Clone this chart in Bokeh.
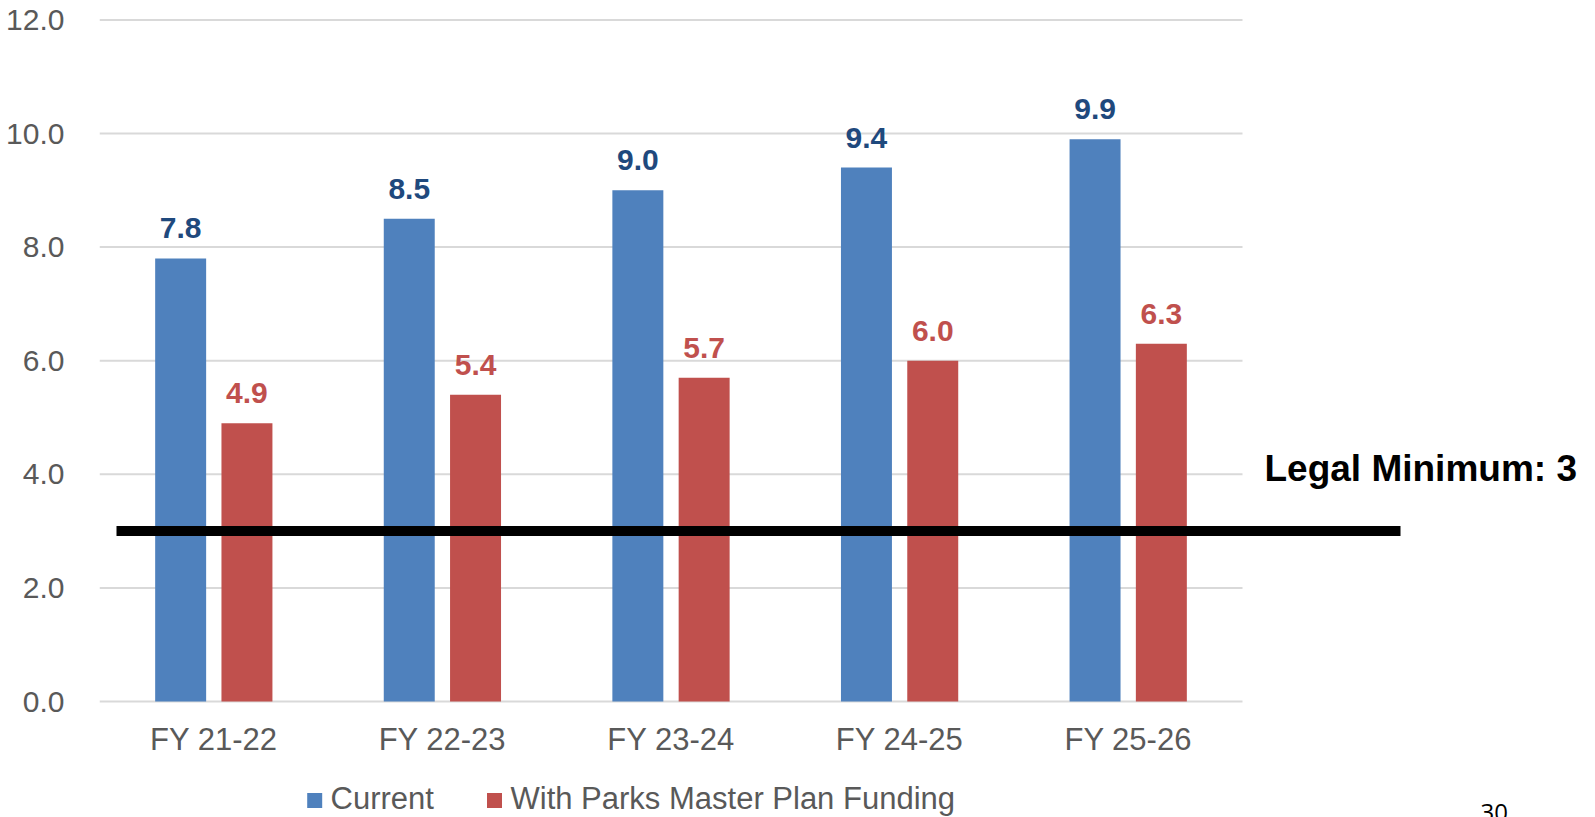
from bokeh.plotting import figure
from bokeh.models import Range1d, FixedTicker, NumeralTickFormatter, ColumnDataSource
from bokeh.core.properties import value
from bokeh.embed import file_html
from bokeh.resources import INLINE

# ---- data ----
categories = ["FY 21-22", "FY 22-23", "FY 23-24", "FY 24-25", "FY 25-26"]
current = [7.8, 8.5, 9.0, 9.4, 9.9]
with_parks = [4.9, 5.4, 5.7, 6.0, 6.3]
series_names = ["Current", "With Parks Master Plan Funding"]
y_ticks = [0, 2, 4, 6, 8, 10, 12]
legal_minimum = 3
page_number = "30"

# ---- style ----
BLUE = "#4F81BD"
RED = "#C0504D"
BLUE_LABEL = "#1F497D"
GRAY_TEXT = "#595959"
GRID = "#D9D9D9"
FONT = "Liberation Sans"

W, H = 1595, 817
LEFT = 99
PX_PER_X = 228.6
PX_PER_Y = 56.8
ZERO_PX = 701.0


def xd(px):
    return (px - LEFT) / PX_PER_X


def yd(py):
    return (ZERO_PX - py) / PX_PER_Y


p = figure(width=W, height=H, output_backend="svg", toolbar_location=None,
           x_axis_type=None, x_range=Range1d(0, xd(W)), y_range=Range1d(yd(H), yd(0)),
           min_border_left=LEFT, min_border_right=0, min_border_top=0, min_border_bottom=0)
p.outline_line_color = None
p.xgrid.visible = False
p.ygrid.visible = False
p.background_fill_color = "white"
p.border_fill_color = "white"

ya = p.yaxis[0]
ya.ticker = FixedTicker(ticks=y_ticks)
ya.formatter = NumeralTickFormatter(format="0.0")
ya.axis_line_color = None
ya.major_tick_line_color = None
ya.minor_tick_line_color = None
ya.major_label_standoff = 29
ya.major_label_text_font = FONT
ya.major_label_text_font_size = "30px"
ya.major_label_text_color = GRAY_TEXT

n = len(categories)
centers = [i + 0.5 for i in range(n)]
off = 0.145
bw = 0.223

# gridlines (stop at the category area)
p.segment(x0=[0] * len(y_ticks), x1=[n] * len(y_ticks), y0=y_ticks, y1=y_ticks,
          line_color=GRID, line_width=2)

src = ColumnDataSource(dict(
    xb=[c - off for c in centers], xr=[c + off for c in centers],
    cur=current, wp=with_parks,
    cur_lbl=["%.1f" % v for v in current], wp_lbl=["%.1f" % v for v in with_parks],
))

p.vbar(x="xb", top="cur", bottom=0, width=bw, source=src, fill_color=BLUE, line_color=None)
p.vbar(x="xr", top="wp", bottom=0, width=bw, source=src, fill_color=RED, line_color=None)

p.text(x="xb", y="cur", text="cur_lbl", source=src, text_align="center",
       text_baseline="alphabetic", y_offset=-30, text_font=value(FONT),
       text_font_style="bold", text_font_size="30px", text_color=BLUE_LABEL)
p.text(x="xr", y="wp", text="wp_lbl", source=src, text_align="center",
       text_baseline="alphabetic", y_offset=-30, text_font=value(FONT),
       text_font_style="bold", text_font_size="30px", text_color=RED)

# category labels
p.text(x=centers, y=[yd(739)] * n, text=categories, text_align="center",
       text_baseline="alphabetic", text_font=value(FONT), text_font_size="31px",
       text_color=GRAY_TEXT)

# legal minimum line and label
p.segment(x0=[xd(116)], x1=[xd(1400)], y0=[legal_minimum], y1=[legal_minimum],
          line_color="black", line_width=10)
p.text(x=[xd(1264)], y=[yd(467.7)], text=["Legal Minimum: %d" % legal_minimum],
       text_align="left", text_baseline="alphabetic", text_font=value(FONT),
       text_font_style="bold", text_font_size="37px", text_color="black")

# legend (manual)
sq_x = [xd(314.2), xd(494)]
tx_x = [xd(330), xd(510)]
p.rect(x=sq_x, y=[yd(800)] * 2, width=15, height=15, width_units="screen",
       height_units="screen", fill_color=[BLUE, RED], line_color=None)
p.text(x=tx_x, y=[yd(798)] * 2, text=series_names, text_align="left",
       text_baseline="alphabetic", text_font=value(FONT), text_font_size="31px",
       text_color=GRAY_TEXT)

# page number
p.text(x=[xd(1480)], y=[yd(812)], text=[page_number], text_align="left",
       text_baseline="alphabetic", text_font=value("Open Sans"), text_font_size="24px",
       text_color="black")

open("out.html", "w").write(file_html(p, INLINE))
